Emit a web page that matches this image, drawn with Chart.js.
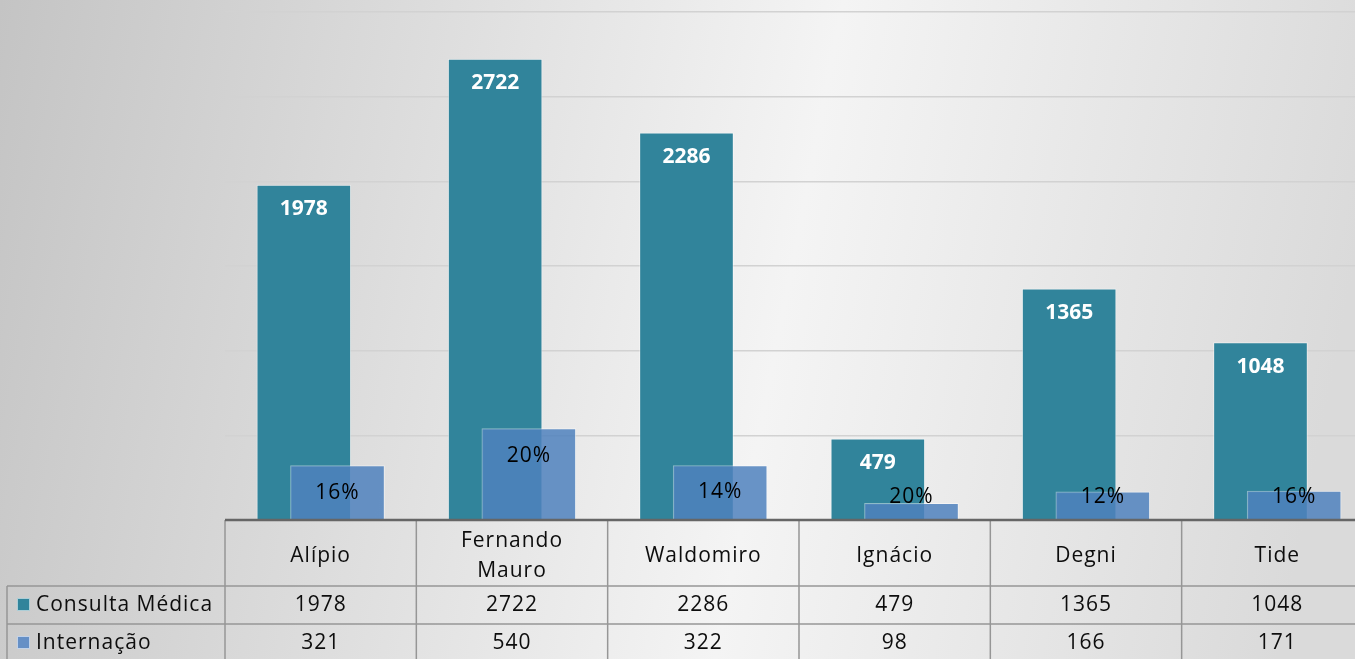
<!DOCTYPE html>
<html lang="pt-BR">
<head>
<meta charset="utf-8">
<title>Consultas e internações</title>
<script src="https://cdn.jsdelivr.net/npm/chart.js@4/dist/chart.umd.min.js"></script>
<style>
  html, body { margin: 0; padding: 0; background: #e6e6e6; }
  #grafico-box { width: 1355px; height: 659px; }
</style>
</head>
<body>
<div id="grafico-box"><canvas id="grafico"></canvas></div>
<script>
const categorias = ['Alípio', ['Fernando', 'Mauro'], 'Waldomiro', 'Ignácio', 'Degni', 'Tide'];
const series = ['Consulta Médica', 'Internação'];
const consultas = [1978, 2722, 2286, 479, 1365, 1048];
const internacoes = [321, 540, 322, 98, 166, 171];
const maxY = 3000;
const passoY = 500;

const corConsulta = '#31849b';
const corInternacao = 'rgba(79, 129, 189, 0.85)';
const fonte = '"Open Sans", sans-serif';

// rotulo das barras azuis = internações / consultas
const percentuais = internacoes.map((v, i) => Math.round(v / consultas[i] * 100) + '%');

// as barras se sobrepoem um pouco (estilo Excel)
const deslocamento = 0.088;
// a ultima coluna fica um pouco cortada na borda direita
const corteDireita = 0.094;

const fundo = {
  id: 'fundo',
  beforeDraw(chart) {
    const { ctx, width, height } = chart;
    const g = ctx.createLinearGradient(0, 0, width, height * 0.4);
    g.addColorStop(0, '#c4c4c4');
    g.addColorStop(0.6, '#f4f4f4');
    g.addColorStop(1, '#dadada');
    ctx.save();
    ctx.fillStyle = g;
    ctx.fillRect(0, 0, width, height);
    ctx.restore();
  }
};

const rotulos = {
  id: 'rotulos',
  afterDatasetsDraw(chart) {
    const ctx = chart.ctx;
    const base = chart.chartArea.bottom;
    ctx.save();
    ctx.textAlign = 'center';
    ctx.textBaseline = 'middle';
    chart.getDatasetMeta(0).data.forEach((bar, i) => {
      ctx.font = 'bold 21px ' + fonte;
      ctx.fillStyle = '#ffffff';
      ctx.fillText(consultas[i], bar.x, bar.y + 24);
    });
    chart.getDatasetMeta(1).data.forEach((bar, i) => {
      ctx.font = '21px ' + fonte;
      ctx.letterSpacing = '1px';
      ctx.fillStyle = '#000000';
      ctx.fillText(percentuais[i], bar.x, Math.min(bar.y + 27, base - 23));
    });
    ctx.restore();
  }
};

const tabela = {
  id: 'tabela',
  afterDraw(chart) {
    const { ctx, chartArea: area, width, height } = chart;
    const x = chart.scales.x;
    const topo = area.bottom;
    const linha1 = topo + 66;
    const linha2 = topo + 104;
    const bordas = categorias.map((c, i) => x.getPixelForValue(i - 0.5));

    ctx.save();
    ctx.strokeStyle = '#969696';
    ctx.lineWidth = 1.5;
    ctx.beginPath();
    bordas.forEach(b => { ctx.moveTo(b, topo); ctx.lineTo(b, height); });
    ctx.moveTo(7, linha1); ctx.lineTo(width, linha1);
    ctx.moveTo(7, linha2); ctx.lineTo(width, linha2);
    ctx.moveTo(7, linha1); ctx.lineTo(7, height);
    ctx.stroke();

    // eixo x
    ctx.strokeStyle = '#666666';
    ctx.lineWidth = 2.5;
    ctx.beginPath();
    ctx.moveTo(area.left, topo);
    ctx.lineTo(width, topo);
    ctx.stroke();

    ctx.font = '21px ' + fonte;
    ctx.letterSpacing = '1px';
    ctx.fillStyle = '#0d0d0d';
    ctx.textAlign = 'center';
    ctx.textBaseline = 'middle';
    categorias.forEach((c, i) => {
      const cx = x.getPixelForValue(i);
      const linhas = Array.isArray(c) ? c : [c];
      linhas.forEach((t, k) => {
        ctx.fillText(t, cx, topo + 36 + (k - (linhas.length - 1) / 2) * 30);
      });
      ctx.fillText(consultas[i], cx, linha1 + 19);
      ctx.fillText(internacoes[i], cx, linha2 + 19);
    });

    // legenda na primeira coluna
    const cores = ['#31849b', '#6690c6'];
    ctx.textAlign = 'left';
    series.forEach((s, k) => {
      const cy = (k === 0 ? linha1 : linha2) + 19;
      ctx.fillStyle = cores[k];
      ctx.fillRect(17, cy - 7, 13, 13);
      ctx.strokeStyle = 'rgba(255,255,255,0.6)';
      ctx.lineWidth = 1;
      ctx.strokeRect(17.5, cy - 6.5, 12, 12);
      ctx.fillStyle = '#0d0d0d';
      ctx.fillText(s, 36, cy);
    });
    ctx.restore();
  }
};

new Chart(document.getElementById('grafico'), {
  type: 'bar',
  data: {
    datasets: [
      {
        label: series[0],
        data: consultas.map((v, i) => ({ x: i - deslocamento, y: v })),
        backgroundColor: corConsulta,
        borderColor: 'rgba(255, 255, 255, 0.45)',
        borderWidth: 1,
        order: 2
      },
      {
        label: series[1],
        data: internacoes.map((v, i) => ({ x: i + deslocamento, y: v })),
        backgroundColor: corInternacao,
        borderColor: 'rgba(255, 255, 255, 0.45)',
        borderWidth: 1,
        order: 1
      }
    ]
  },
  options: {
    responsive: true,
    maintainAspectRatio: false,
    animation: false,
    layout: { padding: { left: 225, right: 0, top: 12, bottom: 139 } },
    datasets: { bar: { grouped: false, barThickness: 94 } },
    plugins: { legend: { display: false }, tooltip: { enabled: false } },
    scales: {
      x: { type: 'linear', min: -0.5, max: categorias.length - 0.5 - corteDireita, offset: false, display: false },
      y: {
        min: 0,
        max: maxY,
        ticks: { display: false, stepSize: passoY },
        grid: { color: '#d2d2d2', lineWidth: 1.5, drawTicks: false },
        border: { display: false },
        afterFit: s => { s.width = 0; }
      }
    }
  },
  plugins: [fundo, rotulos, tabela]
});
</script>
</body>
</html>
